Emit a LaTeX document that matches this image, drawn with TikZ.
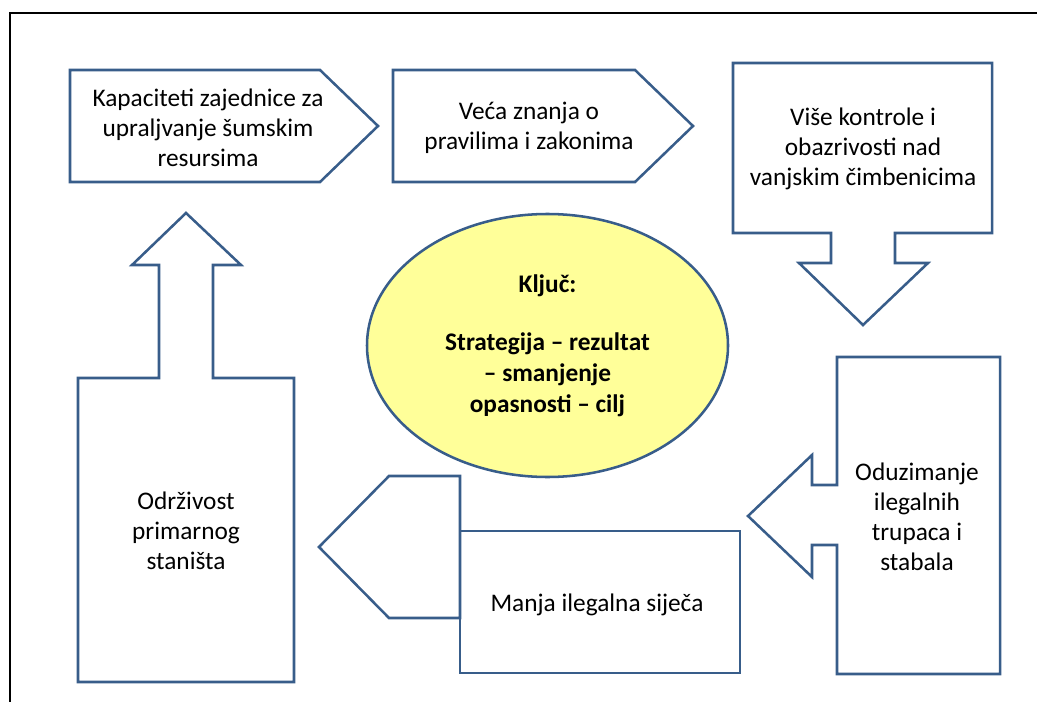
\documentclass[tikz,border=0pt]{standalone}
\usepackage{fontspec}
\setmainfont{Carlito}
\usepackage{xcolor}
\usetikzlibrary{shapes.geometric}

\definecolor{shapeblue}{RGB}{56,93,138}
\definecolor{keyyellow}{RGB}{255,255,153}

\begin{document}
\begin{tikzpicture}[
    x=0.75pt, y=-0.75pt,
    callout/.style={draw=shapeblue, line width=1.9pt, fill=white},
    frameline/.style={draw=black, line width=2pt},
    label/.style={align=center, inner sep=0pt, font=\fontsize{19}{22.5}\selectfont},
    keynode/.style={ellipse, draw=shapeblue, line width=1.9pt, fill=keyyellow, minimum width=270.75pt, minimum height=197.25pt, inner sep=0pt, align=center, font=\fontsize{19}{23.25}\selectfont\bfseries}
]
\useasboundingbox (0,0) rectangle (1037,702);
\draw[frameline] (1045,13) -- (10,13) -- (10,710);

% arrow shapes
\draw[callout] (70,70) -- (320,70) -- (378,126) -- (320,182) -- (70,182) -- cycle;
\draw[callout] (393,70) -- (635,70) -- (693,126) -- (635,182) -- (393,182) -- cycle;
\draw[callout] (733,63) -- (992,63) -- (992,233) -- (895,233) -- (895,263) -- (928,263) -- (863,325)
    -- (799,263) -- (831,263) -- (831,233) -- (733,233) -- cycle;
\draw[callout] (78,378) -- (159,378) -- (159,265) -- (132,265) -- (186,213) -- (241,265) -- (213,265)
    -- (213,378) -- (294,378) -- (294,682) -- (78,682) -- cycle;
\draw[callout] (460,531) rectangle (740,673);
\draw[callout] (460,476) -- (389,476) -- (319,547) -- (389,618) -- (460,618) -- cycle;
\draw[callout] (837,357) -- (1000,357) -- (1000,674) -- (837,674) -- (837,545) -- (812,545) -- (812,577)
    -- (748,516) -- (812,455) -- (812,485) -- (837,485) -- cycle;

% texts
\node[label] (capacity) at (208,127.5) {Kapaciteti zajednice za\\upraljvanje šumskim\\resursima};
\node[label] (knowledge) at (529,127.5) {Veća znanja o\\pravilima i zakonima};
\node[label] (control) at (863,149) {Više kontrole i\\obazrivosti nad\\vanjskim čimbenicima};
\node[label] (seizure) at (917,517) {Oduzimanje\\ilegalnih\\trupaca i\\stabala};
\node[label] (logging) at (597,605) {Manja ilegalna siječa};
\node[label] (habitat) at (186,531) {Održivost\\primarnog\\staništa};

\node[keynode] (key) at (547.5,345.5) {Ključ:\\[20.25pt]Strategija – rezultat\\– smanjenje\\opasnosti – cilj};
\end{tikzpicture}
\end{document}
